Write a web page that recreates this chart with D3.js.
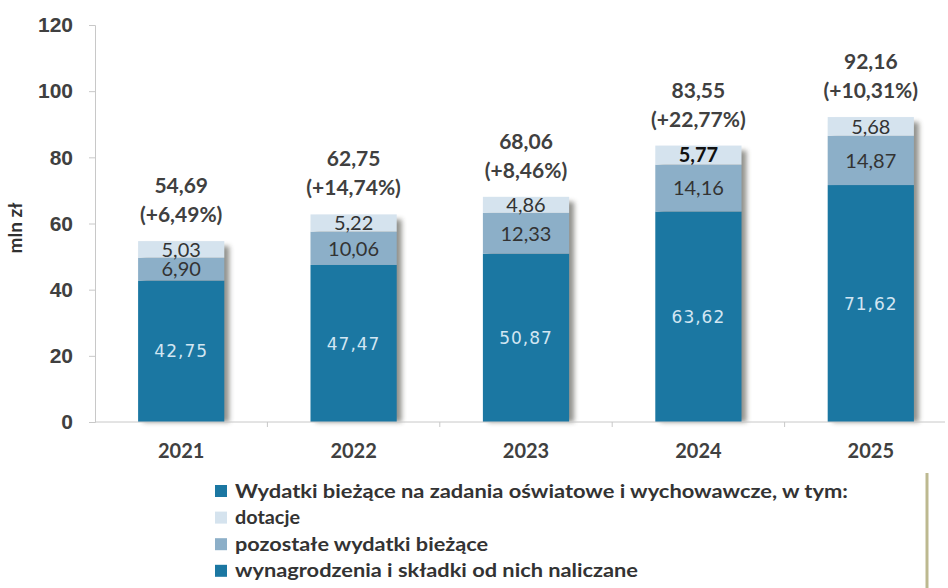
<!DOCTYPE html>
<html>
<head>
<meta charset="utf-8">
<script src="https://cdn.jsdelivr.net/npm/d3@7"></script>
<style>
  body { margin: 0; background: #fff; }
  svg { display: block; font-family: Lato, "Open Sans", sans-serif; }
</style>
</head>
<body>
<script>
// data (mln zł)
var years = ["2021", "2022", "2023", "2024", "2025"];
var wynagrodzenia = [42.75, 47.47, 50.87, 63.62, 71.62];
var pozostale = [6.90, 10.06, 12.33, 14.16, 14.87];
var dotacje = [5.03, 5.22, 4.86, 5.77, 5.68];
var totals = [54.69, 62.75, 68.06, 83.55, 92.16];
var growth = ["+6,49%", "+14,74%", "+8,46%", "+22,77%", "+10,31%"];
var yTicks = [0, 20, 40, 60, 80, 100, 120];
var legendLabels = [
  "Wydatki bieżące na zadania oświatowe i wychowawcze, w tym:",
  "dotacje",
  "pozostałe wydatki bieżące",
  "wynagrodzenia i składki od nich naliczane"
];

var fmt = function(v) { return v.toFixed(2).replace(".", ","); };

var width = 948, height = 588;
var margin = {top: 25, left: 95, bottom: 165};
var colors = {wyn: "#1b77a2", poz: "#8cafc8", dot: "#d5e3ee"};

var svg = d3.select("body").append("svg")
    .attr("width", width)
    .attr("height", height);

// shadow filter
var defs = svg.append("defs");
defs.append("filter").attr("id", "blur")
    .attr("x", "-20%").attr("width", "140%")
  .append("feGaussianBlur").attr("stdDeviation", 2.5);

var x = d3.scaleBand().domain(years).range([95, 957]).paddingInner(0.5).paddingOuter(0.25);
var y = d3.scaleLinear().domain([0, 120]).range([height - margin.bottom - 1, margin.top]);

var rows = years.map(function(yr, i) {
  return {year: yr, wyn: wynagrodzenia[i], poz: pozostale[i], dot: dotacje[i]};
});
var keys = ["wyn", "poz", "dot"];
var series = d3.stack().keys(keys)(rows);

// y axis
var yAxis = svg.append("g")
    .attr("transform", "translate(" + margin.left + ",0)")
    .call(d3.axisLeft(y).tickValues(yTicks).tickSize(6).tickPadding(16));
yAxis.select(".domain").attr("stroke", "#c8c8c8");
yAxis.selectAll(".tick line").attr("stroke", "#c8c8c8");
yAxis.selectAll(".tick text")
    .attr("fill", "#404040")
    .style("font-size", "21px")
    .style("font-weight", "bold");

svg.append("text")
    .attr("transform", "translate(22,228) rotate(-90)")
    .attr("text-anchor", "middle")
    .attr("fill", "#303030")
    .style("font-size", "19px")
    .style("font-weight", "bold")
    .text("mln zł");

// shadows
svg.append("g").selectAll("rect")
    .data(rows)
  .join("rect")
    .attr("x", function(d) { return x(d.year) + 5; })
    .attr("y", function(d, i) { return y(totals[i]) + 5; })
    .attr("width", x.bandwidth())
    .attr("height", function(d, i) { return y(0) - y(totals[i]) - 5; })
    .attr("fill", "#3a3a30")
    .attr("opacity", 0.55)
    .attr("filter", "url(#blur)");

// bars
svg.append("g").selectAll("g")
    .data(series)
  .join("g")
    .attr("fill", function(s) { return colors[s.key]; })
  .selectAll("rect")
    .data(function(s) { return s; })
  .join("rect")
    .attr("x", function(d) { return x(d.data.year); })
    .attr("y", function(d) { return y(d[1]); })
    .attr("width", x.bandwidth())
    .attr("height", function(d) { return y(d[0]) - y(d[1]); });

// x axis
var xAxis = svg.append("g")
    .attr("transform", "translate(0," + y(0) + ")");
xAxis.append("line")
    .attr("x1", margin.left).attr("x2", 945)
    .attr("stroke", "#c8c8c8");
xAxis.selectAll(".sep")
    .data(years.slice(1))
  .join("line")
    .attr("class", "sep")
    .attr("x1", function(d) { return x(d) - x.step() * x.paddingInner() / 2; })
    .attr("x2", function(d) { return x(d) - x.step() * x.paddingInner() / 2; })
    .attr("y1", 0).attr("y2", 5)
    .attr("stroke", "#c8c8c8");
xAxis.selectAll(".lab")
    .data(years)
  .join("text")
    .attr("class", "lab")
    .attr("x", function(d) { return x(d) + x.bandwidth() / 2; })
    .attr("y", 36)
    .attr("text-anchor", "middle")
    .attr("fill", "#404040")
    .style("font-size", "20px")
    .style("font-weight", "bold")
    .text(function(d) { return d; });

// segment labels
var labels = svg.append("g");
series.forEach(function(s) {
  labels.selectAll(".l-" + s.key)
      .data(s)
    .join("text")
      .attr("class", "l-" + s.key)
      .attr("x", function(d) { return x(d.data.year) + x.bandwidth() / 2; })
      .attr("y", function(d) { return (y(d[0]) + y(d[1])) / 2; })
      .attr("dy", "0.36em")
      .attr("text-anchor", "middle")
      .style("font-family", s.key === "wyn" ? "'DejaVu Sans', sans-serif" : null)
      .style("font-size", s.key === "wyn" ? "17px" : "20px")
      .style("letter-spacing", s.key === "wyn" ? "1px" : null)
      .style("font-weight", function(d) {
        return (s.key === "dot" && d.data.year === "2024") ? "bold" : "normal";
      })
      .attr("fill", function(d) {
        if (s.key === "wyn") return "#d2e6f2";
        return d.data.year === "2024" && s.key === "dot" ? "#111" : "#333";
      })
      .text(function(d) { return fmt(d.data[s.key]); });
});

// totals
var tot = svg.append("g").selectAll("text")
    .data(years)
  .join("text")
    .attr("x", function(d) { return x(d) + x.bandwidth() / 2; })
    .attr("y", function(d, i) { return y(totals[i]) - 48; })
    .attr("text-anchor", "middle")
    .attr("fill", "#404040")
    .style("font-size", "21px")
    .style("font-weight", "bold");
tot.append("tspan").text(function(d, i) { return fmt(totals[i]); });
tot.append("tspan")
    .attr("x", function(d) { return x(d) + x.bandwidth() / 2; })
    .attr("dy", 29)
    .text(function(d, i) { return "(" + growth[i] + ")"; });

// legend
var legendColors = [colors.wyn, colors.dot, colors.poz, colors.wyn];
var legendWidths = [613, 65, 253, 403];
var legend = svg.append("g").attr("transform", "translate(215,491)");
legend.append("line")
    .attr("x1", 712).attr("x2", 712)
    .attr("y1", -18).attr("y2", 97)
    .attr("stroke", "#bdb990").attr("stroke-width", 3);
var li = legend.selectAll("g")
    .data(legendLabels)
  .join("g")
    .attr("transform", function(d, i) { return "translate(0," + i * 26.6 + ")"; });
li.append("rect")
    .attr("x", 0).attr("y", -6)
    .attr("width", 12).attr("height", 12)
    .attr("fill", function(d, i) { return legendColors[i]; });
li.append("text")
    .attr("x", 20)
    .attr("dy", "0.35em")
    .attr("fill", "#333")
    .attr("textLength", function(d, i) { return legendWidths[i]; })
    .attr("lengthAdjust", "spacingAndGlyphs")
    .style("font-size", "19px")
    .style("font-weight", "bold")
    .text(function(d) { return d; });
</script>
</body>
</html>
